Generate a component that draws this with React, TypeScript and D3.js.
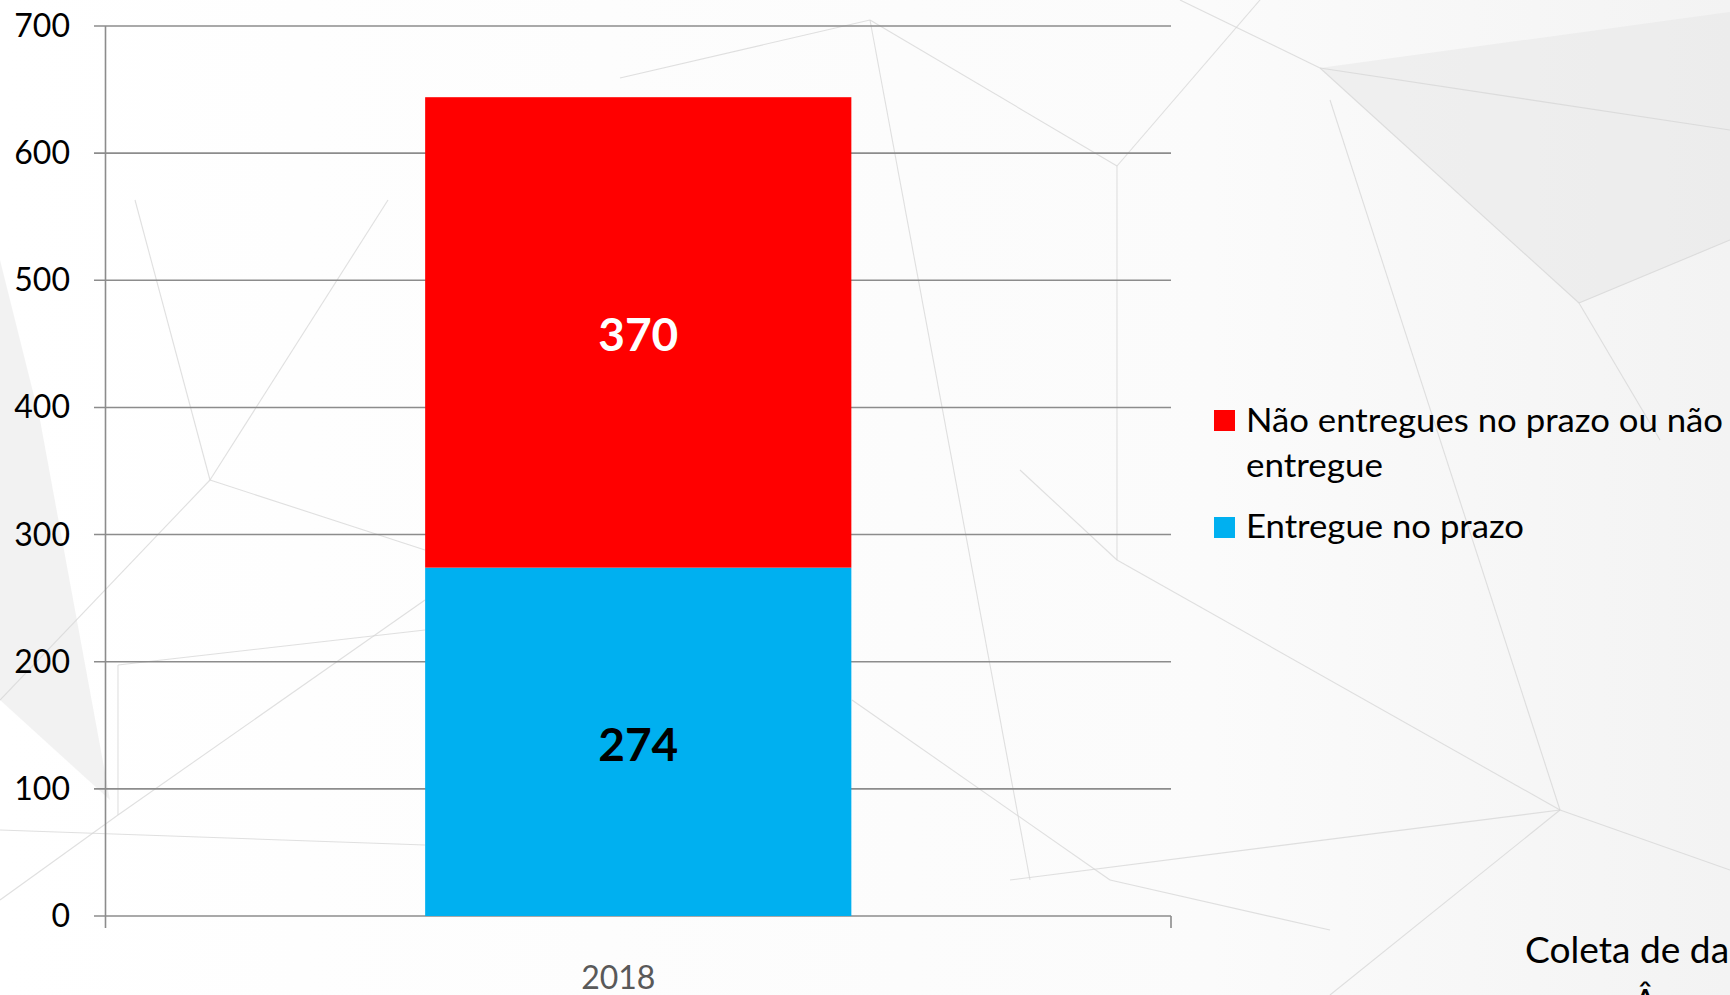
import React from "react";
import * as d3 from "d3";

const categories = ["2018"];
const seriesNames = ["Entregue no prazo", "Não entregues no prazo ou não entregue"];
const entregueNoPrazo = [274];
const naoEntregues = [370];
const yTicks = [0, 100, 200, 300, 400, 500, 600, 700];

// decorative background (faint polygon lines), in page pixels
const bgPolygons: [number, number][][] = [
  [[1320, 68], [1730, 12], [1730, 240], [1579, 303]],
  [[0, 260], [40, 420], [110, 800], [0, 700]],
];
const bgLines: [number, number, number, number][] = [
  [1180, 0, 1320, 68],
  [1320, 68, 1579, 303],
  [1320, 68, 1730, 130],
  [1579, 303, 1730, 240],
  [1579, 303, 1660, 440],
  [1330, 100, 1560, 810],
  [1560, 810, 1730, 870],
  [1560, 810, 1330, 995],
  [870, 20, 1117, 166],
  [620, 78, 870, 20],
  [870, 20, 1030, 880],
  [1117, 166, 1117, 560],
  [1117, 166, 1260, 0],
  [1020, 470, 1117, 560],
  [1117, 560, 1560, 810],
  [210, 480, 135, 200],
  [210, 480, 388, 200],
  [210, 480, 425, 550],
  [0, 700, 210, 480],
  [118, 815, 425, 600],
  [118, 815, 0, 900],
  [118, 665, 425, 630],
  [0, 830, 425, 845],
  [118, 665, 118, 815],
  [852, 700, 1110, 880],
  [1110, 880, 1330, 930],
  [1010, 880, 1560, 810],
];

const W = 1730;
const H = 995;
const FONT = "Lato, 'Open Sans', sans-serif";

export default function App() {
  const x = d3.scaleBand<string>().domain(categories).range([105.5, 1171]).paddingInner(0.6).paddingOuter(0.3);
  const y = d3.scaleLinear().domain([0, 700]).range([916, 26]);

  const rows = categories.map((c, i) => ({ cat: c, a: entregueNoPrazo[i], b: naoEntregues[i] }));
  const stack = d3.stack<any>().keys(["a", "b"])(rows as any);
  const colors = ["#00B0F0", "#FF0000"];
  const labelColors = ["#000000", "#FFFFFF"];

  const bw = x.bandwidth();
  const gridColor = "#8c8c8c";

  return (
    <svg width={W} height={H} style={{ position: "absolute", left: 0, top: 0, background: "#ffffff" }}>
      <defs>
        <linearGradient id="bg" x1="0" y1="0" x2="1" y2="0">
          <stop offset="0" stopColor="#ffffff" />
          <stop offset="0.7" stopColor="#fbfbfb" />
          <stop offset="1" stopColor="#f3f3f3" />
        </linearGradient>
      </defs>
      <rect x={0} y={0} width={W} height={H} fill="url(#bg)" />
      {bgPolygons.map((p, i) => (
        <polygon key={i} points={p.map((q) => q.join(",")).join(" ")} fill="#e6e6e6" opacity={0.5} />
      ))}
      {bgLines.map((l, i) => (
        <line key={i} x1={l[0]} y1={l[1]} x2={l[2]} y2={l[3]} stroke="#d6d6d6" strokeWidth={1.1} opacity={0.75} />
      ))}
      {/* gridlines */}
      {yTicks.map((t) => (
        <g key={t}>
          <line x1={94} x2={1171} y1={y(t)} y2={y(t)} stroke={gridColor} strokeWidth={1.6} />
          <text x={70} y={y(t) + 11} textAnchor="end" fontFamily={FONT} fontSize={32} fill="#000">
            {t}
          </text>
        </g>
      ))}
      {/* y axis */}
      <line x1={105.5} x2={105.5} y1={y(700)} y2={928} stroke={gridColor} strokeWidth={1.6} />
      <line x1={1171} x2={1171} y1={y(0)} y2={928} stroke={gridColor} strokeWidth={1.6} />
      {/* bars */}
      {stack.map((s, si) =>
        s.map((d: any, i: number) => {
          const cat = categories[i];
          const x0 = x(cat)!;
          const yTop = y(d[1]);
          const yBot = y(d[0]);
          return (
            <g key={`${si}-${i}`}>
              <rect x={x0} y={yTop} width={bw} height={yBot - yTop} fill={colors[si]} />
              <text
                x={x0 + bw / 2}
                y={(yTop + yBot) / 2 + 19}
                textAnchor="middle"
                fontFamily={FONT}
                fontWeight="bold"
                fontSize={46}
                fill={labelColors[si]}
              >
                {d[1] - d[0]}
              </text>
            </g>
          );
        })
      )}
      {/* category labels */}
      {categories.map((c) => (
        <text key={c} x={x(c)! + bw / 2 - 20} y={989} textAnchor="middle" fontFamily={FONT} fontSize={32} fill="#595959">
          {c}
        </text>
      ))}
      {/* legend */}
      <rect x={1214} y={410} width={21} height={21} fill={colors[1]} />
      <text x={1246} y={432} fontFamily={FONT} fontSize={33} fill="#000" textLength={477} lengthAdjust="spacingAndGlyphs">
        {"Não entregues no prazo ou não"}
      </text>
      <text x={1246} y={477} fontFamily={FONT} fontSize={33} fill="#000" textLength={137} lengthAdjust="spacingAndGlyphs">
        {"entregue"}
      </text>
      <rect x={1214} y={517} width={21} height={21} fill={colors[0]} />
      <text x={1246} y={538} fontFamily={FONT} fontSize={33} fill="#000" textLength={278} lengthAdjust="spacingAndGlyphs">
        {seriesNames[0]}
      </text>
      {/* cropped caption */}
      <text x={1525} y={963} fontFamily={FONT} fontSize={36} fill="#000" textLength={262} lengthAdjust="spacingAndGlyphs">
        Coleta de dados
      </text>
      <text x={1633} y={1015} fontFamily={FONT} fontSize={36} fill="#000">
        Â
      </text>
    </svg>
  );
}
